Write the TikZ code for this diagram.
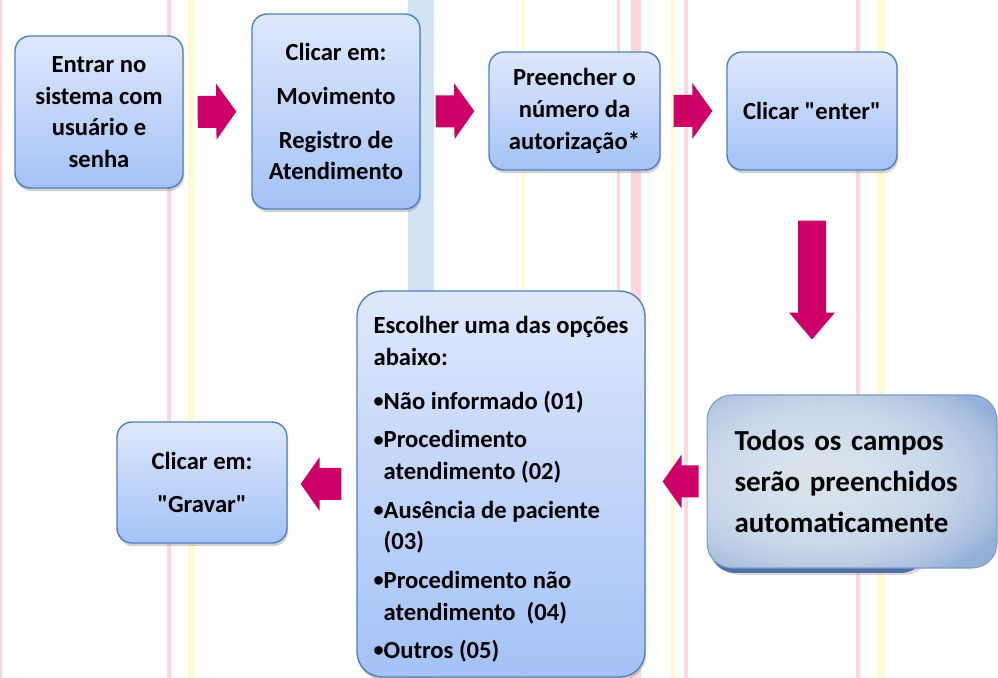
\documentclass[tikz,border=0pt]{standalone}
\usepackage{fontspec}
\setmainfont{Carlito}
\usepackage{tikz}
\usetikzlibrary{calc}
\usetikzlibrary{positioning}
\usetikzlibrary{shadows}

\definecolor{boxtop}{HTML}{DEE8FC}
\definecolor{boxbottom}{HTML}{A4C2F6}
\definecolor{boxline}{HTML}{4F81BD}
\definecolor{flowpink}{HTML}{CC0066}
\definecolor{stripepink}{HTML}{FFD6DC}
\definecolor{stripeyellow}{HTML}{FFFAD2}
\definecolor{stripeblue}{HTML}{D3E3F4}
\definecolor{autoedge}{HTML}{93B0D8}
\definecolor{autocenter}{HTML}{E4ECF6}
\definecolor{autoline}{HTML}{7C9BCB}
\definecolor{autoback}{HTML}{4E6FA8}

\newcommand\optbullet{{\fontsize{11.5}{11.5}\selectfont\raisebox{1pt}{•}}}

\begin{document}
\begin{tikzpicture}[x=0.02cm,y=-0.02cm,
  stepbox/.style={draw=boxline,line width=0.8pt,rounded corners=0.3cm,top color=boxtop,bottom color=boxbottom,drop shadow={shadow xshift=0.6pt,shadow yshift=-1.8pt,opacity=0.35},font=\bfseries\fontsize{14}{18}\selectfont,align=center,inner sep=2pt},
  shafthalf/.store in=\shafthalf,headhalf/.store in=\headhalf,headlen/.store in=\headlen,
  shafthalf=0.32cm,headhalf=0.56cm,headlen=0.4cm,
  blockarrow/.style 2 args={to path={let \p1=($(\tikztostart)!#1!(\tikztotarget)$), \p2=($(\tikztotarget)!#2!(\tikztostart)$), \p3=($(\p2)!\headlen!(\p1)$) in
    ($(\p1)!\shafthalf!90:(\p2)$) -- ($(\p3)!\shafthalf!90:(\p2)$) -- ($(\p3)!\headhalf!90:(\p2)$) -- (\p2)
    -- ($(\p3)!\headhalf!-90:(\p2)$) -- ($(\p3)!\shafthalf!-90:(\p2)$) -- ($(\p1)!\shafthalf!-90:(\p2)$) -- cycle}}]

\useasboundingbox (0,0) rectangle (998,678);
\fill[white] (0,0) rectangle (998,678);

% stripes of the page behind
\foreach \xpos/\wd/\col in {1/3/stripepink,169/4/stripepink,191/6/stripeyellow,421/26/stripeblue,523/4/stripeyellow,618/3/stripepink,636/10/stripepink,673/4/stripeyellow,686/4/stripepink,858/4/stripepink,880/7/stripeyellow}
  \fill[\col] (\xpos-\wd/2,0) rectangle (\xpos+\wd/2,678);

\node[stepbox,minimum width=3.36cm,minimum height=3.04cm] (login) at (99,112) {Entrar no\\sistema com\\usuário e\\senha};
\node[stepbox,minimum width=3.36cm,minimum height=3.9cm] (menu) at (336,111.5) {Clicar em:\\[7pt]Movimento\\[7pt]Registro de\\Atendimento};
\node[stepbox,minimum width=3.42cm,minimum height=2.36cm] (number) at (574.5,111) {Preencher o\\número da\\autorização*};
\node[stepbox,minimum width=3.4cm,minimum height=2.36cm] (enter) at (812,111) {Clicar \textquotedbl enter\textquotedbl};

% raised box with its glow
\fill[autoback,rounded corners=0.5cm,drop shadow={shadow yshift=-1pt,opacity=0.3}] (710,397) rectangle (926,573);
\begin{scope}
  \clip[rounded corners=0.5cm] (707,395) rectangle (997,568);
  \fill[autoedge] (707,395) rectangle (997,568);
  \foreach \k in {1,...,30}
    \fill[autocenter,opacity=0.09] (822,478) ellipse ({4.1cm*(1-\k/31)} and {2.4cm*(1-\k/31)});
\end{scope}
\node[draw=autoline,line width=0.6pt,rounded corners=0.5cm,minimum width=5.8cm,minimum height=3.46cm,align=left,text width=4.7cm,font=\bfseries\fontsize{16.5}{23.2}\selectfont] (auto) at (852,481.5) {Todos os campos\\serão preenchidos\\automaticamente};

\node[stepbox,rounded corners=0.5cm,minimum width=5.76cm,minimum height=7.72cm,align=left] (options) at (501,484) {\rule{0pt}{16pt}Escolher uma das opções\\abaixo:\\[7pt]\optbullet Não informado (01)\\[4pt]\optbullet Procedimento\\\phantom{\optbullet}atendimento (02)\\[4pt]\optbullet Ausência de paciente\\\phantom{\optbullet}(03)\\[4pt]\optbullet Procedimento não\\\phantom{\optbullet}atendimento\ \ (04)\\[4pt]\optbullet Outros (05)};

\node[stepbox,minimum width=3.4cm,minimum height=2.42cm] (save) at (202,482.5) {Clicar em:\\[7pt]\textquotedbl Gravar\textquotedbl};

\coordinate (downend) at (enter.south |- auto.north);
\coordinate (autoleft) at (auto.west -| options.east);
\coordinate (optionsleft) at (options.west -| save.east);

\fill[flowpink] (login.east) to[blockarrow={0.28cm}{0.3cm}] (menu.west);
\fill[flowpink] (menu.east) to[blockarrow={0.3cm}{0.28cm}] (number.west);
\fill[flowpink] (number.east) to[blockarrow={0.26cm}{0.28cm}] (enter.west);
\fill[flowpink,shafthalf=0.28cm,headhalf=0.46cm,headlen=0.54cm] (enter.south) to[blockarrow={1cm}{1.1cm}] (downend);
\fill[flowpink,headhalf=0.54cm,headlen=0.38cm] (auto.west) to[blockarrow={0.16cm}{0.34cm}] (autoleft);
\fill[flowpink,headhalf=0.54cm,headlen=0.38cm] (options.west) to[blockarrow={0.3cm}{0.26cm}] (optionsleft);

\end{tikzpicture}
\end{document}
